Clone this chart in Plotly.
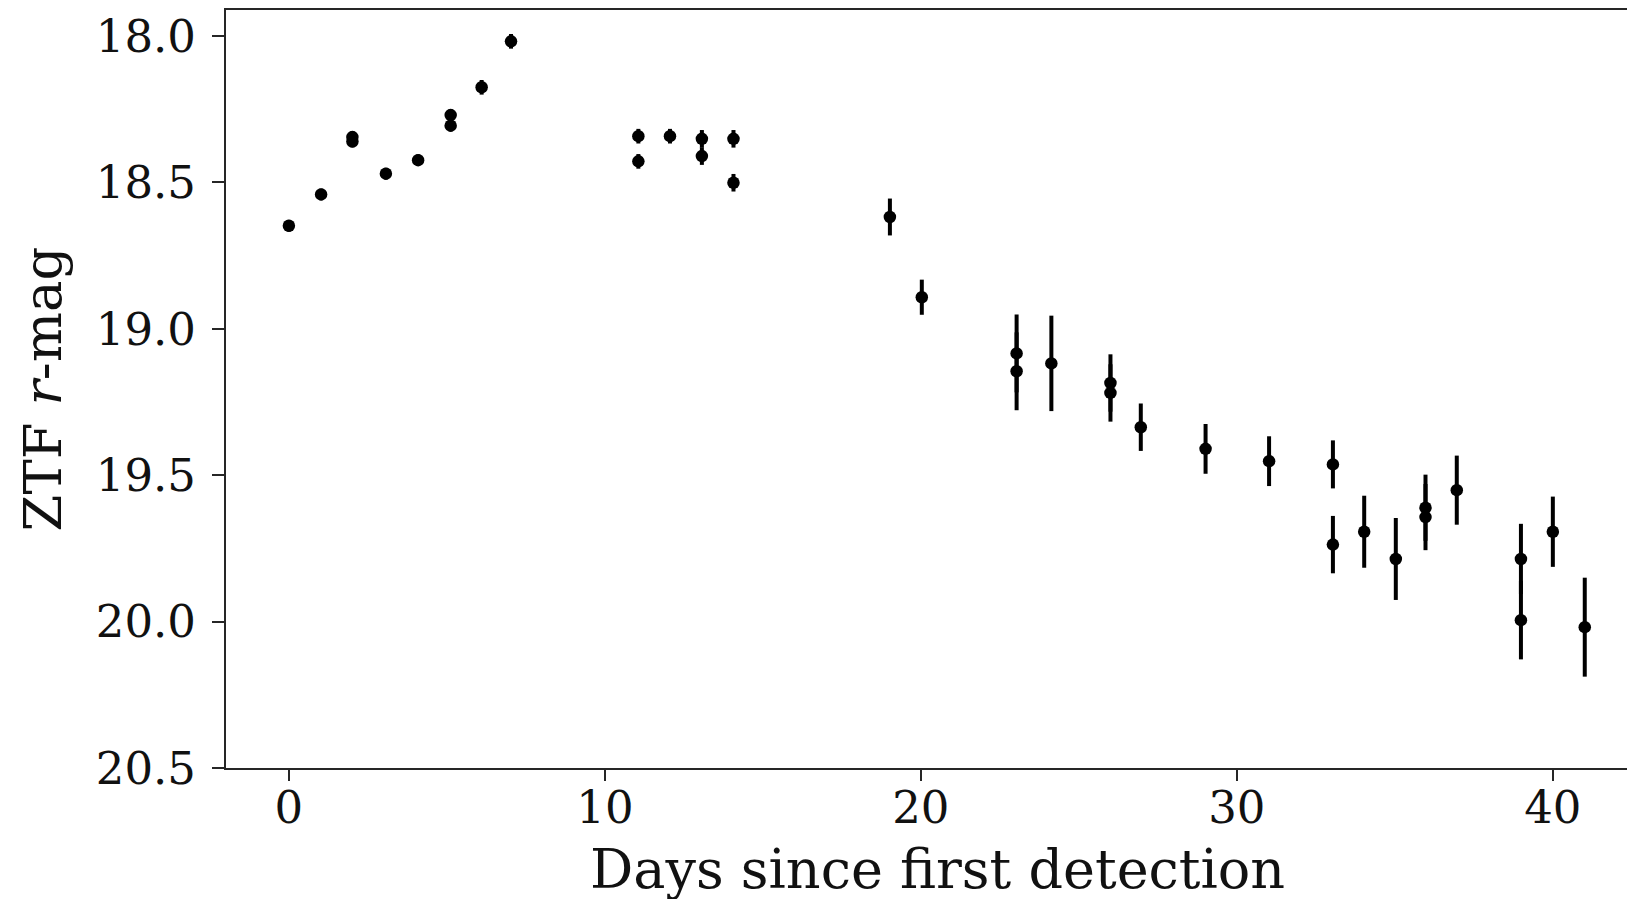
import plotly.graph_objects as go

# Days since first detection
days = [0.0, 1.02, 2.01, 2.01, 3.07, 4.09, 5.12, 5.12, 6.10, 7.03,
        11.06, 11.06, 12.06, 13.07, 13.07, 14.07, 14.07,
        19.02, 20.03, 23.03, 23.03, 24.13, 26.00, 26.00, 26.96,
        29.01, 31.02, 33.04, 33.04, 34.03, 35.03, 35.97, 35.97,
        36.96, 38.99, 38.99, 40.00, 41.01]
# ZTF r-band magnitude
mag = [18.648, 18.541, 18.345, 18.360, 18.470, 18.424, 18.270, 18.306, 18.175, 18.018,
       18.342, 18.428, 18.342, 18.351, 18.410, 18.351, 18.501,
       18.618, 18.892, 19.084, 19.145, 19.118, 19.185, 19.219, 19.336,
       19.410, 19.452, 19.463, 19.737, 19.693, 19.786, 19.611, 19.643,
       19.551, 19.786, 19.995, 19.693, 20.019]
# magnitude uncertainties
mag_err = [0.020, 0.020, 0.020, 0.020, 0.020, 0.020, 0.020, 0.020, 0.025, 0.025,
           0.025, 0.025, 0.025, 0.030, 0.030, 0.030, 0.030,
           0.063, 0.060, 0.133, 0.133, 0.163, 0.098, 0.098, 0.081,
           0.085, 0.085, 0.082, 0.098, 0.123, 0.140, 0.113, 0.113,
           0.118, 0.120, 0.134, 0.120, 0.169]

x_ticks = [0, 10, 20, 30, 40]
y_ticks = [18.0, 18.5, 19.0, 19.5, 20.0, 20.5]

FONT = "DejaVu Serif"
AX = "#262626"
TXT = "#111111"

fig = go.Figure()
fig.add_trace(go.Scatter(
    x=days, y=mag, mode="markers",
    marker=dict(color="black", size=12.5, line=dict(width=0)),
    error_y=dict(type="data", array=mag_err, visible=True,
                 color="black", thickness=4, width=0),
    showlegend=False,
))

fig.update_layout(
    width=1627, height=891,
    margin=dict(l=218, r=0, t=2.4, b=130.5),
    paper_bgcolor="white", plot_bgcolor="white",
    font=dict(family=FONT, color=TXT),
    annotations=[dict(
        text="Days since first detection", xref="paper", yref="paper",
        x=0.505, y=0, xanchor="center", yanchor="top", yshift=-68,
        showarrow=False, font=dict(family=FONT, size=54, color=TXT),
    )],
)
fig.update_xaxes(
    range=[-1.99, 42.6], tickvals=x_ticks, ticktext=[str(v) for v in x_ticks],
    showgrid=False, zeroline=False,
    showline=True, mirror=True, linecolor=AX, linewidth=2,
    ticks="outside", ticklen=11, tickwidth=2, tickcolor=AX,
    tickfont=dict(family=FONT, size=45, color=TXT),
    ticklabelstandoff=-12,
    automargin=False,
)
fig.update_yaxes(
    range=[20.5, 17.911], tickvals=y_ticks, ticktext=["%.1f" % v for v in y_ticks],
    showgrid=False, zeroline=False,
    showline=True, mirror=False, linecolor=AX, linewidth=2,
    ticks="outside", ticklen=12, tickwidth=2, tickcolor=AX,
    tickfont=dict(family=FONT, size=45, color=TXT),
    ticklabelstandoff=7,
    title=dict(text="ZTF <i>r</i>-mag",
               font=dict(family=FONT, size=53, color=TXT), standoff=17),
    automargin=False,
)

fig.write_html("out.html")
